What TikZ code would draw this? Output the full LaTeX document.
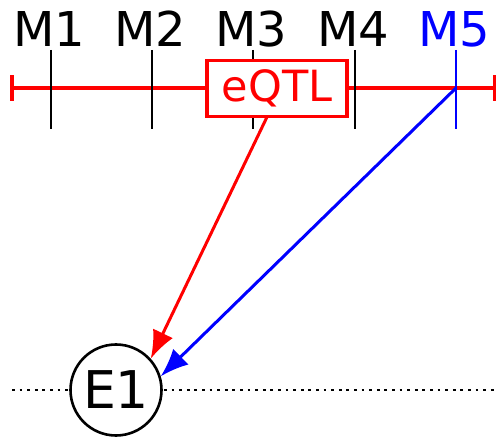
\documentclass[tikz,border=0pt]{standalone}
\usepackage{fontspec}
\setmainfont{DejaVu Sans}
\usetikzlibrary{arrows.meta}
\begin{document}
\begin{tikzpicture}[x=1pt,y=-1pt,
  big/.style={font=\fontsize{48}{48}\selectfont},
  lbl/.style={big,anchor=base,inner sep=0pt},
  tick/.style={line width=2.6pt},
  redline/.style={line width=4pt,red},
  arr/.style={line width=3pt,-{Latex[length=28pt,width=22pt]}}]
\useasboundingbox (0,0) rectangle (496,438);
% red chromosome line
\coordinate (l0) at (12,88);
\coordinate (l1) at (495,88);
\draw[redline] (l0) -- (l1);
\draw[redline] ([yshift=-13pt]l0) -- ([yshift=13pt]l0);
\draw[redline] ([yshift=-13pt]l1) -- ([yshift=13pt]l1);
% ticks
\foreach \i/\x in {1/51,2/152,3/253,4/355}{
  \coordinate (t\i a) at (\x,50);
  \coordinate (t\i b) at (\x,129);
  \draw[tick] (t\i a) -- (t\i b);
}
\coordinate (t5a) at (456,50);
\coordinate (t5b) at (456,129);
\coordinate (t5) at (456,88);
\draw[tick,blue] (t5a) -- (t5b);
% labels
\node[lbl] (m1) at (49,47) {M1};
\node[lbl] (m2) at (150,47) {M2};
\node[lbl] (m3) at (251,47) {M3};
\node[lbl] (m4) at (353,47) {M4};
\node[lbl,text=blue] (m5) at (454,47) {M5};
% eQTL box
\node[font=\fontsize{43}{43}\selectfont,draw=red,text=red,fill=white,line width=3.2pt,minimum width=140pt,minimum height=56pt,inner sep=0pt] (q) at (277,88.5) {eQTL};
\coordinate (qs) at (267,117);
% dotted line
\coordinate (d0) at (12,390);
\coordinate (d1) at (496,390);
\draw[line width=2.8pt,dash pattern=on 2.8pt off 4.8pt] (d0) -- (d1);
% E1
\node[font=\fontsize{52}{52}\selectfont,circle,draw,fill=white,line width=2.6pt,minimum size=91pt,inner sep=0pt] (e1) at (116,390) {E1};
% arrows
\draw[arr,red] (qs) -- (e1.42);
\draw[arr,blue] (t5) -- (e1.17);
\end{tikzpicture}
\end{document}
